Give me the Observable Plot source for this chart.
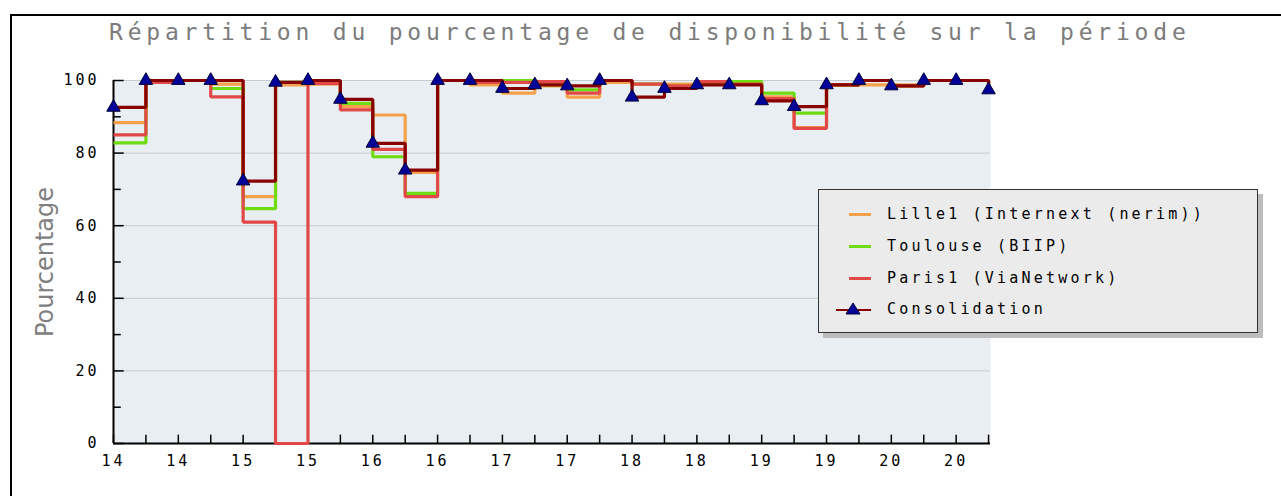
<!DOCTYPE html>
<html><head><meta charset="utf-8">
<script src="https://cdn.jsdelivr.net/npm/d3@7"></script>
<script src="https://cdn.jsdelivr.net/npm/@observablehq/plot@0.6"></script>
<style>
html,body{margin:0;padding:0;background:#fff;}
body{width:1281px;height:496px;overflow:hidden;position:relative;font-family:"DejaVu Sans Mono",monospace;}
#frame{position:absolute;left:10px;top:14px;width:1300px;height:540px;border:2px solid #000;box-sizing:border-box;}
#title{position:absolute;left:109px;top:21px;font-size:23px;line-height:23px;letter-spacing:4.8px;color:#7c7c7c;white-space:nowrap;}
#chart{position:absolute;left:0;top:60px;}
#chart svg [aria-label="text"]{letter-spacing:0;}
#legend{position:absolute;left:818px;top:189px;width:440px;height:144px;box-sizing:border-box;background:#ebebeb;border:1.5px solid #333;box-shadow:5px 5px 0 #bdbdbd;font-size:15px;letter-spacing:3.2px;color:#000;}
.row{position:absolute;left:0;height:20px;width:100%;}
.row .sw{position:absolute;left:30px;top:9px;width:22px;height:3px;}
.row .lab{position:absolute;left:68px;top:0;line-height:20px;white-space:nowrap;}
.row svg{position:absolute;left:15px;top:0;}
</style>
</head><body>
<div id="frame"></div>
<div id="title">Répartition du pourcentage de disponibilité sur la période</div>
<div id="chart"></div>
<div id="legend"></div>
<script>
// Day-of-month labels, one tick label every two points (points are 6 hours apart)
const tickLabels = ["14","14","15","15","16","16","17","17","18","18","19","19","20","20"];

// Series values (percent), one per 6-hour point
const lille1   = [88.4,100,100,99,68,98.8,99,92.8,90.5,74.7,100,98.8,96.5,98.5,95.4,99.5,99,99,99.3,99.5,95.5,87,98.8,98.8,98.8,100,100,97.4];
const toulouse = [82.8,100,100,97.8,64.7,99.5,99.7,93.7,79,68.9,100,99.5,100,98.8,97.4,100,99,98.5,99,99.7,96.5,91,98.8,100,98.5,100,100,97.4];
const paris1   = [85,99.5,100,95.5,61,0,99.2,91.9,81,68,100,99.5,99.5,99.7,96.5,100,99,98.5,99.7,99,95,86.8,98.8,100,98.5,100,100,97.4];
const consolidation = [92.6,100,100,100,72.3,99.5,100,94.8,82.7,75.3,100,100,97.8,98.8,98.5,100,95.4,97.8,98.8,98.8,94.4,92.8,98.8,100,98.5,100,100,97.4];

const seriesNames = ["Lille1 (Internext (nerim))","Toulouse (BIIP)","Paris1 (ViaNetwork)","Consolidation"];
const seriesColors = ["#f5a14c","#6fdc12","#e34848","#880000"];
const yMajor = [0,20,40,60,80,100];
const yMinor = [10,30,50,70,90];
const yGrid = [20,40,60,80,100];

const idx = consolidation.map((_, i) => i);
const rows = [];
[lille1, toulouse, paris1].forEach((arr, k) => arr.forEach((v, i) => rows.push({i, v, s: seriesNames[k]})));
const consRows = consolidation.map((v, i) => ({i, v}));

const chart = Plot.plot({
  width: 1281,
  height: 436,
  marginTop: 20,
  marginBottom: 53,
  marginLeft: 113,
  marginRight: 291,
  style: {fontFamily: "DejaVu Sans Mono", fontSize: "15px", color: "#000", background: "transparent", overflow: "visible", letterSpacing: "3px"},
  x: {domain: [0, 27.06], ticks: idx.filter(i => i % 2 === 0), tickFormat: i => tickLabels[i / 2], tickSize: 0, tickPadding: 12, label: null},
  y: {domain: [0, 100], ticks: yMajor, tickSize: 0, tickPadding: 14, label: null},
  color: {domain: seriesNames, range: seriesColors},
  marks: [
    Plot.frame({fill: "#e8eef1", stroke: null}),
    Plot.ruleY(yGrid, {stroke: "#c5cbce", strokeWidth: 1}),
    Plot.ruleY(yMajor, {x1: 0, x2: 0.33, stroke: "#000", strokeWidth: 1.5}),
    Plot.ruleY(yMinor, {x1: 0, x2: 0.24, stroke: "#000", strokeWidth: 1.5}),
    Plot.ruleX(idx, {y1: 0, y2: 2.3, stroke: "#000", strokeWidth: 1.5}),
    Plot.ruleX([0], {stroke: "#000", strokeWidth: 2}),
    Plot.ruleY([0], {x1: 0, x2: 27.06, stroke: "#000", strokeWidth: 2}),
    Plot.line(rows, {x: "i", y: "v", z: "s", stroke: "s", curve: "step-after", strokeWidth: 3.2, strokeLinejoin: "miter", strokeLinecap: "butt"}),
    Plot.line(consRows, {x: "i", y: "v", stroke: seriesColors[3], curve: "step-after", strokeWidth: 3.2, strokeLinejoin: "miter", strokeLinecap: "butt"}),
    Plot.dot(consRows, {x: "i", y: "v", symbol: "triangle", r: 5, fill: "#000099", stroke: "#00003a", strokeWidth: 1}),
    Plot.text(["Pourcentage"], {frameAnchor: "left", textAnchor: "middle", dx: -68, rotate: -90, text: d => d, fontFamily: "DejaVu Sans", fontSize: 24, fill: "#808080"})
  ]
});
document.getElementById("chart").appendChild(chart);

// Legend
const legend = document.getElementById("legend");
const rowTops = [14, 46, 78, 109];
seriesNames.forEach((name, k) => {
  const row = document.createElement("div");
  row.className = "row";
  row.style.top = rowTops[k] + "px";
  if (k < 3) {
    const sw = document.createElement("span");
    sw.className = "sw";
    sw.style.background = seriesColors[k];
    row.appendChild(sw);
  } else {
    row.innerHTML = '<svg width="40" height="20"><line x1="2" y1="11" x2="37" y2="11" stroke="#880000" stroke-width="2"/><path d="M19,4 L26,15 L12,15 Z" fill="#000099" stroke="#00003a" stroke-width="1"/></svg>';
  }
  const lab = document.createElement("span");
  lab.className = "lab";
  lab.textContent = name;
  row.appendChild(lab);
  legend.appendChild(row);
});
</script>
</body></html>
